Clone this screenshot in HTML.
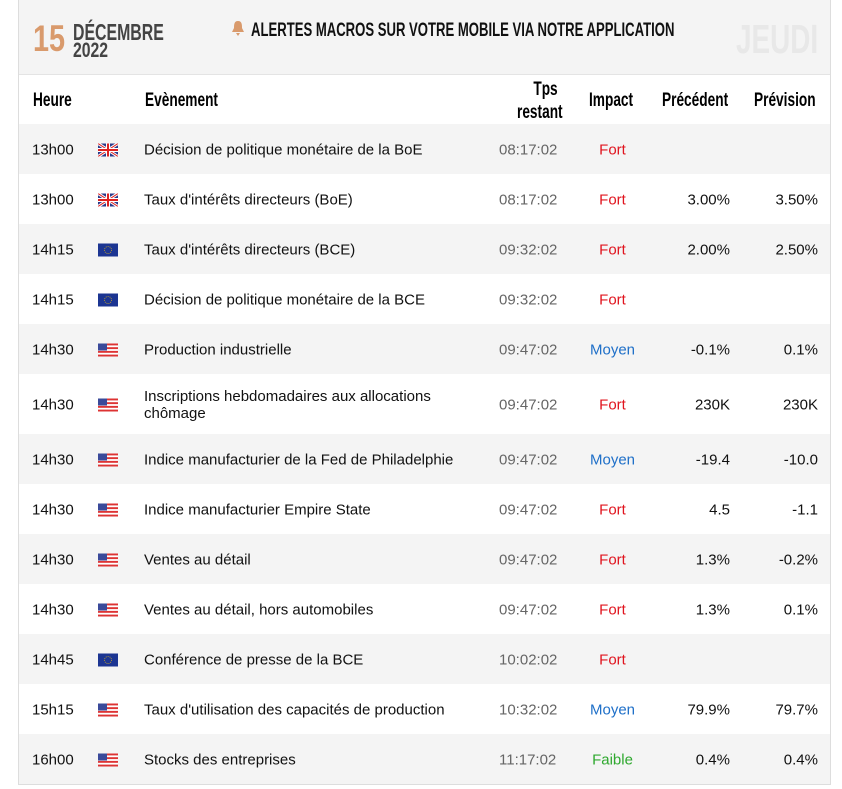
<!DOCTYPE html>
<html><head><meta charset="utf-8"><style>
body{margin:0;width:842px;height:789px;background:#fff;font-family:"Liberation Sans",sans-serif;overflow:hidden;position:relative}
#box{position:absolute;left:18px;top:0;width:811px;height:784px;border-left:1px solid #ddd;border-right:1px solid #ddd;border-bottom:1px solid #ddd}
.cond{display:inline-block;transform:scaleX(0.72);transform-origin:left center;font-weight:bold;white-space:nowrap}
.abs{position:absolute}
.row{position:absolute;left:0;width:811px;font-size:15px;color:#111}
.row span{position:absolute;top:calc(50% + 1px);transform:translateY(-50%)}
.flag{width:20px;height:13px}
</style></head><body>
<div id="box">
 <div class="abs" style="left:0;top:0;width:811px;height:74px;background:#f4f4f4;border-bottom:1px solid #e4e4e4">
  <div class="abs cond" style="left:14px;top:18px;font-size:37px;color:#d99a6c;transform:scaleX(0.78)">15</div>
  <div class="abs cond" style="left:54px;top:19px;font-size:23px;color:#444;transform:scaleX(0.69)">DÉCEMBRE</div>
  <div class="abs cond" style="left:54px;top:39px;font-size:21px;color:#444;transform:scaleX(0.75)">2022</div>
  <div class="abs" style="left:212px;top:20px">
   <svg width="14" height="16" style="position:absolute;left:0;top:0"><path d="M7 1 C3 1 3 5 3 8 L1 12 L13 12 L11 8 C11 5 11 1 7 1Z M5 13 L9 13 L7 16Z" fill="#d99a6c"/></svg>
   <span class="cond abs" style="left:20px;top:0;font-size:19px;color:#111;transform:scaleX(0.69)">ALERTES MACROS SUR VOTRE MOBILE VIA NOTRE APPLICATION</span>
  </div>
  <div class="abs cond" style="left:717px;top:16px;font-size:41px;color:#e8e8e8;transform:scaleX(0.68)">JEUDI</div>
 </div>
 <div class="abs" style="left:0;top:75px;width:811px;height:49px;font-size:19px">
  <span class="abs cond" style="left:14px;top:15px">Heure</span>
  <span class="abs cond" style="left:126px;top:15px">Evènement</span>
  <span class="abs cond" style="left:498px;top:3px;text-align:center;line-height:23px">&nbsp;&nbsp;&nbsp;Tps<br>restant</span>
  <span class="abs cond" style="left:570px;top:15px">Impact</span>
  <span class="abs cond" style="left:643px;top:15px">Précédent</span>
  <span class="abs cond" style="left:735px;top:15px">Prévision</span>
 </div>
 <div id="rows"></div>
</div>
<script>
const times=["13h00","13h00","14h15","14h15","14h30","14h30","14h30","14h30","14h30","14h30","14h45","15h15","16h00"];
const countries=["uk","uk","eu","eu","us","us","us","us","us","us","eu","us","us"];
const events=["Décision de politique monétaire de la BoE","Taux d'intérêts directeurs (BoE)","Taux d'intérêts directeurs (BCE)","Décision de politique monétaire de la BCE","Production industrielle","Inscriptions hebdomadaires aux allocations<br>chômage","Indice manufacturier de la Fed de Philadelphie","Indice manufacturier Empire State","Ventes au détail","Ventes au détail, hors automobiles","Conférence de presse de la BCE","Taux d'utilisation des capacités de production","Stocks des entreprises"];
const remaining=["08:17:02","08:17:02","09:32:02","09:32:02","09:47:02","09:47:02","09:47:02","09:47:02","09:47:02","09:47:02","10:02:02","10:32:02","11:17:02"];
const impacts=["Fort","Fort","Fort","Fort","Moyen","Fort","Moyen","Fort","Fort","Fort","Fort","Moyen","Faible"];
const previous=["","3.00%","2.00%","","-0.1%","230K","-19.4","4.5","1.3%","1.3%","","79.9%","0.4%"];
const forecast=["","3.50%","2.50%","","0.1%","230K","-10.0","-1.1","-0.2%","0.1%","","79.7%","0.4%"];
const impactColor={Fort:"#e0141e",Moyen:"#1e6fc8",Faible:"#2ea82e"};
const flags={
uk:'<svg class="flag" viewBox="0 0 20 13"><rect width="20" height="13" fill="#2a3a8c"/><path d="M0 0L20 13M20 0L0 13" stroke="#fff" stroke-width="3"/><path d="M0 0L20 13M20 0L0 13" stroke="#d22" stroke-width="1"/><path d="M10 0V13M0 6.5H20" stroke="#fff" stroke-width="4"/><path d="M10 0V13M0 6.5H20" stroke="#d22" stroke-width="2"/></svg>',
eu:'<svg class="flag" viewBox="0 0 20 13"><rect width="20" height="13" fill="#1c3592"/><circle cx="10" cy="6.5" r="3.5" fill="none" stroke="#c9a628" stroke-width="0.8" stroke-dasharray="1 1"/></svg>',
us:'<svg class="flag" viewBox="0 0 20 13"><rect width="20" height="13" fill="#fff"/><g fill="#d33"><rect y="0" width="20" height="1.9"/><rect y="3.7" width="20" height="1.9"/><rect y="7.4" width="20" height="1.9"/><rect y="11.1" width="20" height="1.9"/></g><rect width="9" height="7" fill="#3a4a9a"/></svg>'};
const rows=document.getElementById('rows');
let y=124;
for(let i=0;i<times.length;i++){
 const h=events[i].includes('<br>')?60:50;
 const r=document.createElement('div');
 r.className='row';
 r.style.top=y+'px';r.style.height=h+'px';
 r.style.background=i%2===0?'#f4f4f4':'#fff';
 
 
 r.innerHTML=`<span style="left:13px">${times[i]}</span><span style="left:79px;height:13px">${flags[countries[i]]}</span><span style="left:125px;line-height:17px">${events[i]}</span><span style="left:480px;color:#666">${remaining[i]}</span><span style="left:539px;width:109px;text-align:center;color:${impactColor[impacts[i]]}">${impacts[i]}</span><span style="right:100px">${previous[i]}</span><span style="right:12px">${forecast[i]}</span>`;
 rows.appendChild(r);
 y+=h;
}
</script>
</body></html>
